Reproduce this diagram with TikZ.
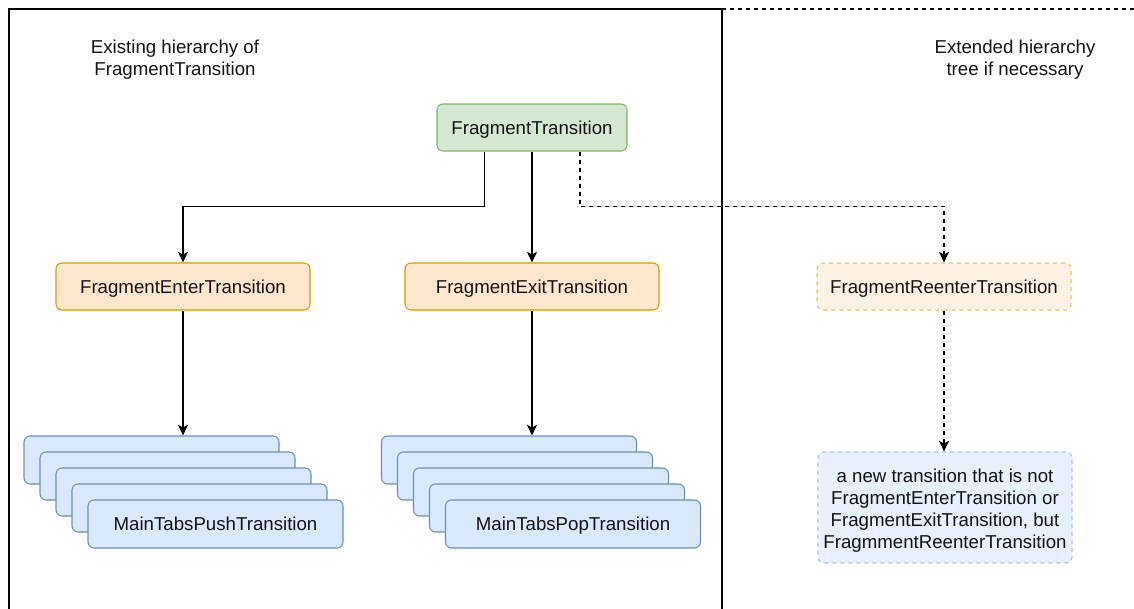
\documentclass[tikz,border=0pt]{standalone}
\usepackage{fontspec}
\setmainfont{Liberation Sans}
\usetikzlibrary{arrows.meta,calc}
\definecolor{gfill}{HTML}{D5E8D4}
\definecolor{gline}{HTML}{82B366}
\definecolor{ofill}{HTML}{FFE6CC}
\definecolor{oline}{HTML}{D79B00}
\definecolor{bfill}{HTML}{DAE8FC}
\definecolor{bline}{HTML}{6C8EBF}
\definecolor{txt}{HTML}{141414}
\tikzset{
  box/.style={rounded corners=4.5pt, line width=0.8pt, font=\fontsize{14}{16.5}\selectfont, text=txt, inner sep=0pt, align=center, text height=13pt, text depth=3pt},
  greenbox/.style={box, fill=gfill, draw=gline, minimum width=142.5pt, minimum height=35.25pt},
  orangebox/.style={box, fill=ofill, draw=oline, minimum width=190.5pt, minimum height=35.25pt},
  ghostorange/.style={box, fill=ofill!55, draw=oline!45!yellow!80!black!60, dashed, minimum width=190.5pt, minimum height=35.25pt},
  stackbox/.style={box, fill=bfill, draw=bline, minimum width=191.25pt, minimum height=36pt},
  ghostblue/.style={rounded corners=4.5pt, line width=0.8pt, fill=bfill!65, draw=bline!55, dashed, minimum width=190.5pt, minimum height=83.25pt, inner sep=0pt},
  header/.style={font=\fontsize{14}{16.5}\selectfont, text=txt, align=center, inner sep=0pt},
  arr/.style={line width=1.1pt, -{Stealth[length=8pt,width=7.5pt,inset=2pt]}},
  darr/.style={arr, dashed}
}
\begin{document}
\begin{tikzpicture}[x=0.75pt,y=-0.75pt]
\useasboundingbox (0,0) rectangle (1134,608);
\fill[white] (0,0) rectangle (1134,608);
% frames
\draw[line width=1.1pt] (9,612) -- (9,9) -- (722,9) -- (722,612);
\draw[line width=1.1pt, dashed] (722,9) -- (1140,9);
% headers
\node[header] (h1) at (175,59.5) {Existing hierarchy of\\FragmentTransition};
\node[header] (h2) at (1015,59.5) {Extended hierarchy\\tree if necessary};
% main nodes
\node[greenbox] (ft) at (532,127.5) {FragmentTransition};
\node[orangebox] (enter) at (183,286.5) {FragmentEnterTransition};
\node[orangebox] (exit) at (532,286.5) {FragmentExitTransition};
\node[ghostorange] (reenter) at (944,286.5) {FragmentReenterTransition};
% push stack
\node[stackbox] (pu1) at (151.5,460) {};
\node[stackbox] (pu2) at (167.5,476) {};
\node[stackbox] (pu3) at (183.5,492) {};
\node[stackbox] (pu4) at (199.5,508) {};
\node[stackbox] (pu5) at (215.5,524) {MainTabsPushTransition};
% pop stack
\node[stackbox] (po1) at (509,460) {};
\node[stackbox] (po2) at (525,476) {};
\node[stackbox] (po3) at (541,492) {};
\node[stackbox] (po4) at (557,508) {};
\node[stackbox] (po5) at (573,524) {MainTabsPopTransition};
% new
\node[ghostblue] (newt) at (945,507.5) {};
\node[header] (newtxt) at (945,511) {a new transition that is not\\FragmentEnterTransition or\\FragmentExitTransition, but\\FragmmentReenterTransition};
% connectors
\coordinate (ftl) at ($(ft.south west)!0.25!(ft.south east)$);
\coordinate (ftr) at ($(ft.south west)!0.75!(ft.south east)$);
\coordinate (jl) at ($(enter.north)+(0,-56)$);
\coordinate (jr) at ($(reenter.north)+(0,-56)$);
\draw[arr] (ftl) |- (jl) -- (enter.north);
\draw[arr] (ft.south) -- (exit.north);
\draw[darr] (ftr) |- (jr) -- (reenter.north);
\draw[arr] (enter.south) -- (enter.south |- pu1.north);
\draw[arr] (exit.south) -- (exit.south |- po1.north);
\draw[darr] (reenter.south) -- (reenter.south |- newt.north);
\end{tikzpicture}
\end{document}
